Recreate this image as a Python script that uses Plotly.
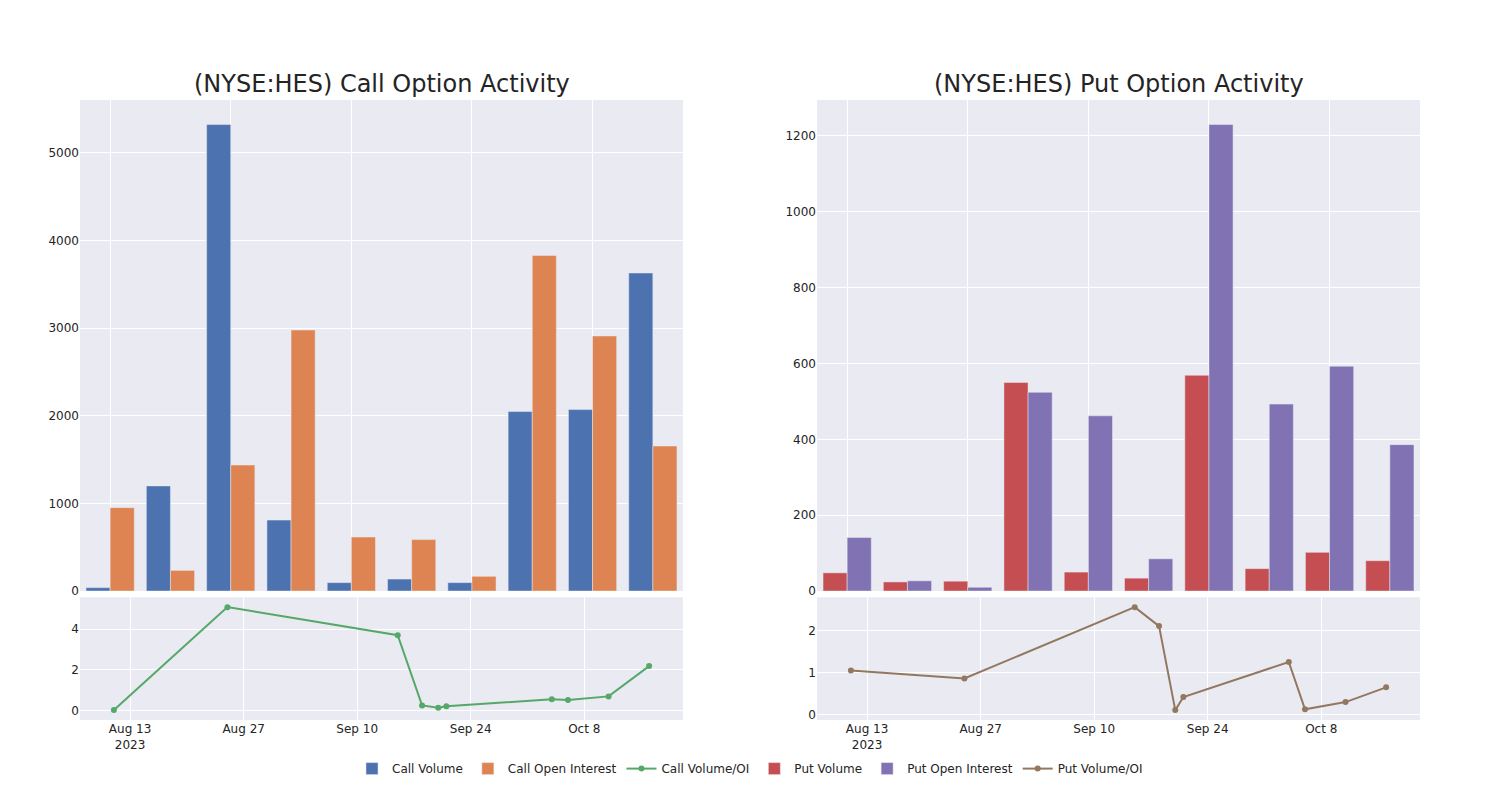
import plotly.graph_objects as go
from plotly.subplots import make_subplots

dates = ["2023-08-11", "2023-08-25", "2023-09-15", "2023-09-18", "2023-09-20",
         "2023-09-21", "2023-10-04", "2023-10-06", "2023-10-11", "2023-10-16"]

call_volume = [39, 1200, 5324, 810, 96, 137, 96, 2048, 2071, 3630]
call_oi = [952, 236, 1438, 2979, 616, 587, 168, 3829, 2911, 1655]
call_ratio = [0.04, 5.07, 3.70, 0.27, 0.16, 0.23, 0.57, 0.53, 0.71, 2.19]

put_volume = [48, 24, 26, 550, 50, 34, 569, 59, 102, 80]
put_oi = [141, 27, 10, 524, 462, 85, 1230, 493, 593, 386]
put_ratio = [1.05, 0.86, 2.55, 2.10, 0.11, 0.42, 1.25, 0.13, 0.30, 0.65]

titles = ["(NYSE:HES) Call Option Activity", "(NYSE:HES) Put Option Activity"]

fig = make_subplots(rows=2, cols=2, row_heights=[0.8, 0.2],
                    horizontal_spacing=0.1, vertical_spacing=0.01,
                    subplot_titles=titles)

fig.add_trace(go.Bar(x=dates, y=call_volume, name="Call Volume"), row=1, col=1)
fig.add_trace(go.Bar(x=dates, y=call_oi, name="Call Open Interest"), row=1, col=1)
fig.add_trace(go.Scatter(x=dates, y=call_ratio, name="Call Volume/OI",
                         mode="lines+markers"), row=2, col=1)
fig.add_trace(go.Bar(x=dates, y=put_volume, name="Put Volume"), row=1, col=2)
fig.add_trace(go.Bar(x=dates, y=put_oi, name="Put Open Interest"), row=1, col=2)
fig.add_trace(go.Scatter(x=dates, y=put_ratio, name="Put Volume/OI",
                         mode="lines+markers"), row=2, col=2)

for c in (1, 2):
    fig.update_xaxes(type="category", showticklabels=False, tickmode="linear",
                     tick0=0, dtick=2, row=1, col=c)
    fig.update_xaxes(type="date", tick0="2023-08-13", dtick=14 * 86400000,
                     row=2, col=c)

for a in fig.layout.annotations:
    a.font.size = 24

fig.update_layout(
    template="seaborn",
    font=dict(family="DejaVu Sans"),
    width=1500, height=800,
    margin=dict(l=80, r=80, t=100, b=80),
    legend=dict(orientation="h", x=0.5, xanchor="center", y=-0.055, yanchor="top"),
)

fig.write_html("out.html", config={"displayModeBar": False},
               post_script="document.body.style.margin='0';")
